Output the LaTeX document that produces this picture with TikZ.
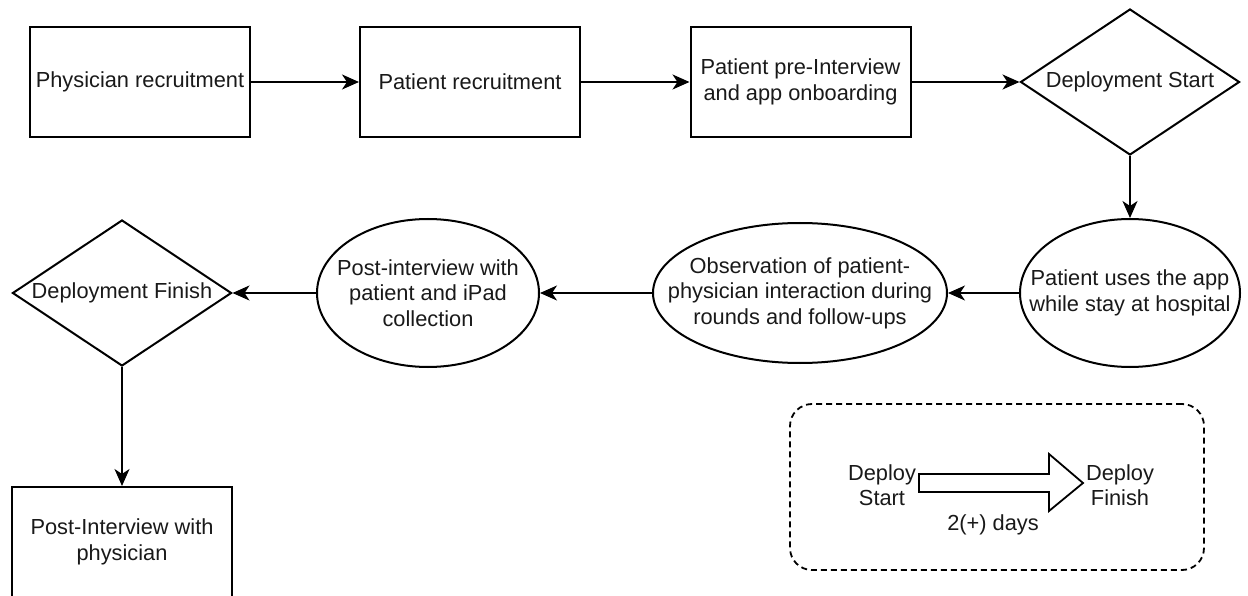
\documentclass[tikz,border=0pt]{standalone}
\usepackage{fontspec}
\setmainfont{Liberation Sans}
\usetikzlibrary{shapes.geometric,arrows.meta}
\begin{document}
\begin{tikzpicture}[x=1pt,y=-1pt,
  every node/.style={font=\fontsize{21.8}{25.5}\selectfont, align=center, inner sep=0pt, text=black!90},
  box/.style={draw, line width=2pt, minimum width=220pt, minimum height=110pt},
  dia/.style={draw, diamond, line width=2pt, minimum width=219pt, minimum height=146pt},
  ell/.style={draw, ellipse, line width=2pt},
  conn/.style={line width=2pt, -{Stealth[length=17pt,width=15pt,inset=5pt]}},
  legendbox/.style={draw, line width=1.8pt, dash pattern=on 6pt off 4pt, rounded corners=22pt, minimum width=414pt, minimum height=166pt},
  blockarrow/.style={draw, line width=1.8pt, line join=miter, fill=white},
]
\useasboundingbox (0,0) rectangle (1248,596);

% top row
\node[box] (n1) at (140,82) {Physician recruitment};
\node[box] (n2) at (470,82) {Patient recruitment};
\node[box] (n3) at (800.5,82) {Patient pre-Interview\\and app onboarding};
\node[dia, label={center:Deployment Start}] (d1) at (1130,82) {};

% middle row
\node[ell, minimum width=220pt, minimum height=148pt, label={center:{Patient uses the app\\while stay at hospital}}] (e1) at (1130,293) {};
\node[ell, minimum width=294pt, minimum height=140pt, label={center:{Observation of patient-\\physician interaction during\\rounds and follow-ups}}] (e2) at (800,293) {};
\node[ell, minimum width=222pt, minimum height=148pt, label={center:{Post-interview with\\patient and iPad\\collection}}] (e3) at (428,293) {};
\node[dia, label={center:Deployment Finish}] (d2) at (122,293) {};

% bottom
\node[box] (n4) at (122,542) {Post-Interview with\\physician};

% connectors
\draw[conn] (n1.east) -- (n2.west);
\draw[conn] (n2.east) -- (n3.west);
\draw[conn] (n3.east) -- (d1.west);
\draw[conn] (d1.south) -- (e1.north);
\draw[conn] (e1.west) -- (e2.east);
\draw[conn] (e2.west) -- (e3.east);
\draw[conn] (e3.west) -- (d2.east);
\draw[conn] (d2.south) -- (n4.north);

% legend
\node[legendbox] (leg) at (997,487) {};
\node (ls) at (882,485) {Deploy\\Start};
\node (lf) at (1120,485) {Deploy\\Finish};
\node (ld) at (993,525) {2(+) days};
\draw[blockarrow] (919,474) -- (1049,474) -- (1049,454) -- (1083,483) -- (1049,511) -- (1049,492) -- (919,492) -- cycle;
\end{tikzpicture}
\end{document}
